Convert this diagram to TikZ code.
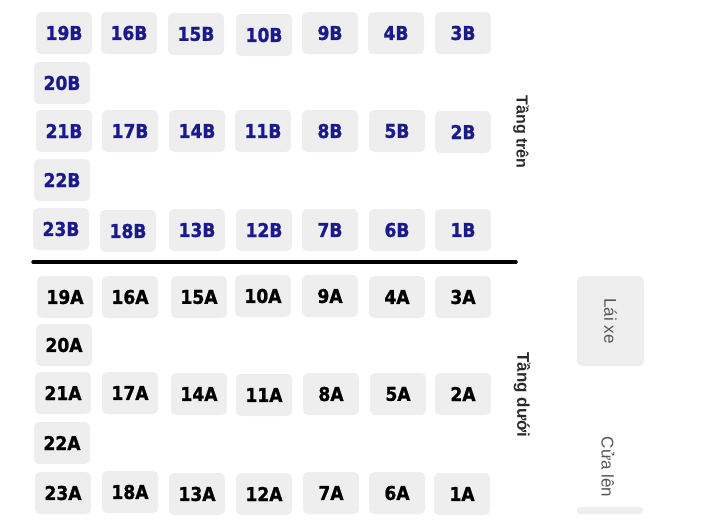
\documentclass[tikz,border=0pt]{standalone}
\usepackage{fontspec}
\setmainfont{Liberation Sans}
\newfontfamily\seatfont{DejaVu Sans Condensed}[BoldFeatures={FakeBold=1.2}]
\usepackage{xcolor}
\usetikzlibrary{positioning}
\definecolor{seatgray}{HTML}{EEEEEE}
\definecolor{seatblue}{HTML}{1A1A8C}
\definecolor{labelgray}{HTML}{2A2A2A}
\definecolor{softgray}{HTML}{555555}

\begin{document}
\begin{tikzpicture}[
  x=1pt, y=-1pt,
  seat/.style={fill=seatgray, rounded corners=5pt, minimum width=56pt, minimum height=42pt, inner sep=0pt,
    font=\seatfont\bfseries\fontsize{19}{19}\selectfont},
  up/.style={seat, text=seatblue},
  down/.style={seat, text=black},
  floor/.style={rotate=-90, text=labelgray, font=\fontsize{17}{17}\selectfont},
  side/.style={rotate=-90, text=softgray, font=\fontsize{17}{17}\selectfont}
]
\useasboundingbox (0,0) rectangle (705,522);

% tang tren
\node[up] (s19B) at (64,33) {19B};
\node[up] (s16B) at (129,33) {16B};
\node[up] (s15B) at (196,34) {15B};
\node[up] (s10B) at (264,35) {10B};
\node[up] (s9B) at (330,33) {9B};
\node[up] (s4B) at (396,33) {4B};
\node[up] (s3B) at (463,33) {3B};
\node[up] (s20B) at (62,83) {20B};
\node[up] (s21B) at (64,131) {21B};
\node[up] (s17B) at (130,131) {17B};
\node[up] (s14B) at (197,131) {14B};
\node[up] (s11B) at (263,131) {11B};
\node[up] (s8B) at (330,131) {8B};
\node[up] (s5B) at (397,131) {5B};
\node[up] (s2B) at (463,132) {2B};
\node[up] (s22B) at (62,180) {22B};
\node[up] (s23B) at (61,229) {23B};
\node[up] (s18B) at (128,231) {18B};
\node[up] (s13B) at (197,230) {13B};
\node[up] (s12B) at (264,230) {12B};
\node[up] (s7B) at (330,230) {7B};
\node[up] (s6B) at (397,230) {6B};
\node[up] (s1B) at (463,230) {1B};

\node[floor, font=\bfseries\fontsize{16}{16}\selectfont] (tren) at (521,132) {Tầng trên};

% vach ngan
\coordinate (lineL) at (33,262);
\coordinate (lineR) at (516,262);
\draw[line width=3.5pt, line cap=round] (lineL) -- (lineR);

% tang duoi
\node[down] (s19A) at (65,297) {19A};
\node[down] (s16A) at (130,297) {16A};
\node[down] (s15A) at (199,297) {15A};
\node[down] (s10A) at (263,296) {10A};
\node[down] (s9A) at (330,296) {9A};
\node[down] (s4A) at (397,297) {4A};
\node[down] (s3A) at (463,297) {3A};
\node[down] (s20A) at (64,345) {20A};
\node[down] (s21A) at (63,393) {21A};
\node[down] (s17A) at (130,393) {17A};
\node[down] (s14A) at (199,394) {14A};
\node[down] (s11A) at (264,395) {11A};
\node[down] (s8A) at (331,394) {8A};
\node[down] (s5A) at (398,394) {5A};
\node[down] (s2A) at (463,394) {2A};
\node[down] (s22A) at (62,443) {22A};
\node[down] (s23A) at (63,493) {23A};
\node[down] (s18A) at (130,492) {18A};
\node[down] (s13A) at (197,494) {13A};
\node[down] (s12A) at (264,494) {12A};
\node[down] (s7A) at (331,493) {7A};
\node[down] (s6A) at (397,493) {6A};
\node[down] (s1A) at (462,494) {1A};

\node[floor, font=\bfseries\fontsize{17}{17}\selectfont] (duoi) at (522,395) {Tầng dưới};

% tai xe, cua
\node[seat, minimum width=67pt, minimum height=90pt] (laixe) at (610.5,321) {};
\node[side] (laixeT) at (laixe) {Lái xe};
\node[side] (cua) at (608,467) {Cửa lên};
\fill[seatgray, rounded corners=3pt] (577,507) rectangle (643,514);
\end{tikzpicture}
\end{document}
